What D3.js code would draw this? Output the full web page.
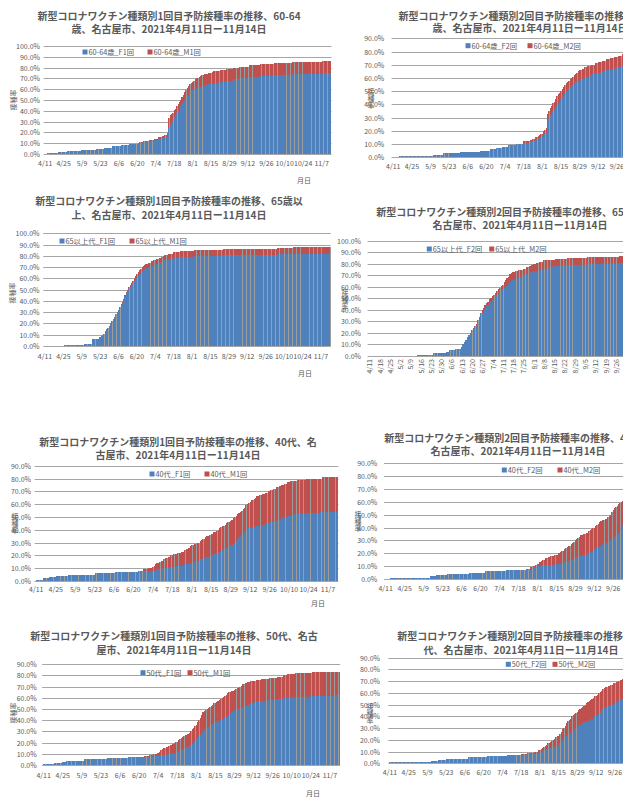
<!DOCTYPE html>
<html><head><meta charset="utf-8">
<script src="https://cdn.jsdelivr.net/npm/d3@7"></script>
<style>body{margin:0;background:#fff;}svg{display:block;font-family:"Noto Sans CJK JP","Noto Sans",sans-serif;}</style>
</head><body><svg id="c" width="623" height="798"></svg>
<script>
// ---- data: daily cumulative rate (%) from 2021-04-11; F = blue segment, M = red segment ----
const f60_1 = [0,0,1,1,1,1,1, 1,1,1,2,2,2,2, 2,2,2,3,3,3,3, 3,3,3,3,3,3,3, 4,4,4,4,4,4,4, 4,4,4,4,5,5,5, 5,5,5,6,6,6,6, 6,6,7,7,7,7,7, 7,7,8,8,8,8,8, 8,9,9,9,9,9,9, 9,10,10,10,10,11,11, 11,11,12,12,12,12,13, 13,13,14,14,14,15,15, 16,16,17,24,27,29,31, 34,36,38,40,42,44,46, 48,50,52,54,55,57,58, 59,60,60,61,61,62,62, 63,63,64,64,64,65,65, 65,65,66,66,66,66,66, 67,67,67,67,67,68,68, 68,68,68,69,69,69,69, 69,70,70,70,70,70,70, 70,71,71,71,71,71,71, 71,71,71,72,72,72,72, 72,72,72,72,72,72,73, 73,73,73,73,73,73,73, 73,73,73,73,73,73,74, 74,74,74,74,74,74,74, 74,74,74,74,74,74,74, 74,74,74,74,74,74,74, 74,75,75,75,75,75,75, 75];
const m60_1 = [0,0,0,0,0,0,0, 0,0,0,0,0,0,0, 0,0,0,0,0,0,0, 0,0,0,0,0,0,0, 0,0,0,0,0,0,0, 0,0,0,0,0,0,0, 0,0,0,0,0,0,0, 0,0,0,0,0,0,0, 0,0,0,0,0,0,0, 0,0,0,0,0,0,0, 0,0,1,1,1,1,1, 1,1,1,1,1,1,1, 1,1,2,2,2,2,2, 2,2,2,9,9,8,7, 7,6,6,6,6,6,7, 7,7,7,7,8,8,8, 8,8,9,9,9,9,10, 10,10,10,10,10,10,10, 10,11,11,11,11,11,11, 11,11,11,11,11,11,11, 11,11,11,11,11,11,11, 11,11,11,11,11,11,11, 11,11,11,11,11,11,11, 11,11,11,11,11,11,11, 11,11,11,11,11,11,11, 11,11,11,11,11,11,11, 11,11,11,11,11,11,11, 11,11,11,11,11,11,11, 11,11,11,11,11,11,11, 11,11,11,11,11,11,11, 11,11,11,11,11,11,11, 11];
const f65_1 = [0,0,0,0,0,0,0, 0,0,0,0,0,0,0, 0,1,1,1,1,1,1, 1,1,1,1,1,1,1, 1,1,2,2,2,2,2, 2,6,6,6,6,6,6, 8,9,10,11,13,15,16, 18,20,22,24,26,28,30, 32,34,36,38,41,44,46, 48,50,52,54,55,57,59, 60,62,63,64,66,67,68, 69,69,70,70,71,71,72, 72,73,73,74,74,75,75, 76,76,76,77,77,77,77, 78,78,78,78,78,79,79, 79,79,79,79,79,79,79, 79,79,80,80,80,80,80, 80,80,80,80,80,80,80, 80,80,80,80,80,80,80, 80,80,80,81,81,81,81, 81,81,81,81,81,81,81, 81,81,81,81,81,81,81, 81,81,81,81,81,81,81, 81,81,81,81,81,81,81, 81,81,81,81,81,81,81, 81,81,82,82,82,82,82, 82,82,82,82,82,82,82, 82,82,82,82,82,82,82, 82,82,82,82,82,82,82, 82,82,82,82,82,82,82, 82,82,82,82,82,82,82, 82];
const m65_1 = [0,0,0,0,0,0,0, 0,0,0,0,0,0,0, 0,0,0,0,0,0,0, 0,0,0,0,0,0,0, 0,0,0,0,0,0,0, 0,0,0,0,0,0,0, 0,0,0,0,0,0,0, 0,0,0,0,0,0,0, 0,1,1,1,1,1,2, 2,2,2,2,3,3,3, 4,4,4,4,4,4,4, 4,4,4,4,4,4,4, 4,4,4,4,4,4,5, 5,5,5,5,5,5,5, 5,5,5,5,5,5,5, 5,5,5,5,5,5,5, 5,5,5,5,5,5,5, 5,5,5,5,5,5,5, 5,5,5,5,5,5,5, 5,5,5,5,5,5,5, 5,5,5,5,5,5,5, 5,5,5,5,5,5,5, 5,5,5,5,5,5,5, 5,5,5,5,5,5,5, 5,5,5,5,5,5,5, 5,5,5,5,5,5,5, 5,5,5,5,5,5,5, 6,6,6,6,6,6,6, 6,6,6,6,6,6,6, 6,6,6,6,6,6,6, 6,6,6,6,6,6,6, 6,6,6,6,6,6,6, 6];
const f40_1 = [1,1,1,1,1,2,2, 2,2,2,3,3,3,3, 3,4,4,4,4,4,4, 4,4,5,5,5,5,5, 5,5,5,5,5,5,5, 5,5,5,5,5,5,5, 5,6,6,6,6,6,6, 6,6,6,6,6,6,6, 6,7,7,7,7,7,7, 7,7,7,7,7,7,7, 7,7,7,7,8,8,8, 8,8,8,8,8,8,8, 8,8,8,9,9,9,9, 9,10,10,10,10,11,11, 11,11,11,12,12,12,12, 12,12,13,13,13,13,14, 14,14,15,15,16,16,17, 17,17,18,18,19,19,19, 20,20,21,21,22,22,23, 23,24,25,25,26,26,27, 28,28,29,30,31,32,34, 35,36,37,38,39,40,41, 41,41,42,42,43,43,43, 43,44,44,44,45,45,45, 46,46,46,47,47,47,48, 48,48,49,49,50,50,50, 51,51,51,51,52,52,52, 52,52,52,52,52,53,53, 53,53,53,53,53,53,53, 53,53,54,54,54,54,54, 54,54,54,54,54,54,54, 54];
const m40_1 = [0,0,0,0,0,0,0, 0,0,0,0,0,0,0, 0,0,0,0,0,0,0, 0,0,0,0,0,0,0, 0,0,0,0,0,0,0, 0,0,0,0,0,0,0, 0,0,0,0,0,0,0, 0,0,0,0,0,0,0, 0,0,0,0,0,0,0, 0,0,0,0,0,0,0, 0,0,0,0,0,0,0, 1,1,1,1,2,2,2, 3,4,5,5,5,6,7, 7,7,8,8,9,8,9, 9,10,10,9,10,10,10, 11,11,11,12,12,13,13, 14,14,14,14,14,14,14, 15,16,15,16,16,16,17, 17,17,17,17,17,18,18, 19,19,18,19,19,20,19, 19,20,20,20,20,20,19, 19,19,19,19,20,20,20, 21,22,21,22,22,23,23, 24,23,24,24,24,24,25, 24,25,25,25,25,26,25, 26,26,26,26,26,26,27, 26,27,27,27,26,26,27, 27,27,27,27,27,26,27, 27,27,27,27,27,27,27, 27,27,26,27,27,27,27, 27,27,27,27,27,27,27, 27];
const f50_1 = [1,1,1,1,1,1,1, 1,2,2,2,2,2,2, 3,3,3,4,4,4,4, 4,4,4,4,4,4,4, 4,4,5,5,5,5,5, 5,5,5,5,5,5,5, 5,5,5,5,5,6,6, 6,6,6,6,6,6,6, 6,6,6,6,6,6,7, 7,7,7,7,7,7,7, 7,7,7,7,7,7,7, 7,8,8,8,8,8,8, 8,8,9,9,9,9,9, 10,10,10,10,11,11,11, 12,12,13,13,14,14,15, 16,16,17,18,19,20,21, 23,24,26,27,29,30,32, 32,33,34,35,36,37,37, 38,38,39,40,40,41,41, 42,43,44,45,46,47,48, 49,49,50,50,51,51,52, 52,53,53,54,54,55,55, 56,56,56,56,57,57,57, 57,57,57,58,58,58,58, 58,58,59,59,59,59,59, 59,59,60,60,60,60,60, 60,61,61,61,61,61,61, 61,61,61,61,61,61,62, 62,62,62,62,62,62,62, 62,62,62,62,62,62,62, 62,62,62,63,63,63,63, 63];
const m50_1 = [0,0,0,0,0,0,0, 0,0,0,0,0,0,0, 0,0,0,0,0,0,0, 0,0,0,0,0,0,0, 0,0,0,0,0,0,0, 0,0,0,0,0,0,0, 0,0,0,0,0,0,0, 0,0,0,0,0,0,0, 0,0,0,0,0,0,0, 0,0,0,0,0,0,0, 0,0,0,0,1,1,1, 1,1,1,1,2,2,2, 3,4,4,5,6,6,7, 6,7,8,8,8,9,10, 9,10,10,11,11,12,12, 11,12,12,12,13,13,14, 13,14,14,15,16,17,16, 17,17,17,17,17,17,18, 17,18,18,18,19,19,20, 20,20,20,20,19,19,18, 18,19,19,19,19,20,20, 20,20,20,20,20,20,20, 19,19,20,20,19,19,20, 20,20,20,19,19,20,20, 20,20,19,19,20,20,20, 20,21,20,20,21,21,21, 21,20,20,21,21,21,21, 21,21,21,21,21,21,20, 20,21,21,21,21,21,21, 21,21,21,21,21,21,21, 21,21,21,20,20,20,20, 20];
const f60_2 = [0,0,0,0,0,1,1, 1,1,1,1,1,1,1, 1,1,1,1,1,1,1, 1,1,1,1,1,1,1, 1,1,2,2,2,2,2, 2,2,2,3,3,3,3, 3,3,3,3,3,3,3, 3,3,4,4,4,4,4, 4,4,4,4,4,4,4, 4,4,4,5,5,5,5, 5,5,5,6,6,6,6, 6,7,7,7,7,8,8, 8,8,8,9,9,9,9, 9,9,10,10,10,10,10, 11,11,11,11,11,12,12, 12,12,13,13,13,14,15, 16,17,18,18,27,29,31, 33,35,36,38,39,40,42, 43,45,46,48,50,51,52, 53,54,55,56,57,57,58, 58,59,59,60,60,61,61, 61,62,62,63,63,63,63, 64,64,64,65,65,65,66, 66,66,66,67,67,67,68, 68,68,68,68,69,69,69, 69,69,70,70,70,70,70];
const m60_2 = [0,0,0,0,0,0,0, 0,0,0,0,0,0,0, 0,0,0,0,0,0,0, 0,0,0,0,0,0,0, 0,0,0,0,0,0,0, 0,0,0,0,0,0,0, 0,0,0,0,0,0,0, 0,0,0,0,0,0,0, 0,0,0,0,0,0,0, 0,0,0,0,0,0,0, 0,0,0,0,0,0,0, 0,0,0,0,0,0,0, 0,0,0,0,0,0,0, 0,0,0,0,0,0,0, 1,1,1,1,1,1,1, 2,2,2,2,3,3,3, 2,3,3,4,6,6,6, 6,6,6,6,7,8,7, 7,7,7,7,6,6,6, 6,6,6,6,6,7,7, 8,7,8,7,8,7,8, 8,7,8,7,7,8,8, 8,8,8,8,8,8,8, 8,8,9,8,8,9,8, 8,9,9,9,9,9,9, 10,10,9,9,10,10,10];
const f65_2 = [0,0,0,0,0,0,0, 0,0,0,0,0,0,0, 0,0,0,0,0,0,0, 0,0,0,0,0,0,0, 0,0,0,0,0,1,1, 1,1,1,1,1,1,1, 1,1,2,2,2,2,2, 2,2,2,2,3,3,5, 5,5,5,6,6,6,6, 8,10,12,14,16,18,20, 21,23,25,27,30,33,36, 37,39,41,43,44,46,47, 49,50,52,53,54,56,57, 57,59,60,61,63,64,65, 66,67,67,68,68,69,69, 70,70,71,71,72,72,73, 73,74,74,74,75,75,75, 76,76,76,77,77,77,77, 78,78,78,78,78,78,78, 78,78,79,79,79,79,79, 79,79,79,79,79,79,79, 79,79,80,80,80,80,80, 80,80,80,80,80,80,80, 80,80,80,80,80,80,80, 80,80,80,81,81,81,81, 81,81,81,81,81,81,81];
const m65_2 = [0,0,0,0,0,0,0, 0,0,0,0,0,0,0, 0,0,0,0,0,0,0, 0,0,0,0,0,0,0, 0,0,0,0,0,0,0, 0,0,0,0,0,0,0, 0,0,0,0,0,0,0, 0,0,0,0,0,0,0, 0,0,0,0,0,0,0, 0,0,0,0,0,0,0, 1,1,1,1,1,1,1, 3,3,3,3,3,3,3, 3,3,3,3,4,3,4, 5,5,6,7,6,7,7, 7,6,7,6,7,6,6, 6,6,6,6,6,6,6, 7,6,7,7,7,7,7, 7,7,7,6,6,6,6, 5,6,6,6,6,6,6, 6,6,6,6,6,6,6, 6,6,6,6,6,6,6, 6,6,6,6,6,6,6, 6,6,6,6,6,6,6, 6,6,6,6,6,6,6, 6,6,6,6,6,6,6, 6,6,6,6,6,6,6];
const f40_2 = [0,0,0,0,1,1,1, 1,1,1,1,1,1,1, 1,1,1,1,1,1,1, 1,1,1,1,1,1,1, 1,1,1,1,1,2,2, 2,2,2,3,3,3,3, 3,3,3,3,4,4,4, 4,4,4,4,4,4,4, 4,4,4,4,4,4,5, 5,5,5,5,5,5,5, 5,5,5,5,6,6,6, 6,6,6,6,6,6,6, 6,6,6,6,6,7,7, 7,7,7,7,7,7,7, 7,7,7,7,7,7,8, 8,8,8,8,9,9,9, 10,10,10,11,11,11,11, 11,11,11,11,11,11,11, 12,12,12,12,12,13,13, 13,13,14,14,15,15,16, 17,17,17,18,18,18,19, 19,19,20,20,21,21,22, 23,23,24,25,25,26,27, 27,28,28,29,29,30,31, 32,33,34,35,35,36,38, 41,41,42,42,43,43,44];
const m40_2 = [0,0,0,0,0,0,0, 0,0,0,0,0,0,0, 0,0,0,0,0,0,0, 0,0,0,0,0,0,0, 0,0,0,0,0,0,0, 0,0,0,0,0,0,0, 0,0,0,0,0,0,0, 0,0,0,0,0,0,0, 0,0,0,0,0,0,0, 0,0,0,0,0,0,0, 0,0,0,0,0,0,0, 0,0,0,0,0,0,0, 0,0,0,0,0,0,0, 0,0,0,0,0,0,0, 0,0,0,0,0,0,0, 0,0,1,1,1,1,2, 2,2,3,3,4,4,5, 5,6,6,7,7,7,8, 7,7,8,9,10,9,10, 11,12,12,12,12,13,13, 13,14,15,15,16,16,16, 16,17,16,17,17,18,18, 17,18,18,18,19,19,19, 19,19,19,19,20,20,21, 22,22,22,22,23,23,22, 20,20,20,20,20,20,20];
const f50_2 = [1,1,1,1,1,1,1, 1,1,1,1,1,1,1, 1,1,1,1,1,1,1, 1,1,1,1,1,1,1, 1,1,1,2,2,2,2, 2,3,3,3,3,3,3, 4,4,4,4,4,4,4, 4,4,4,4,4,4,4, 4,4,4,5,5,5,5, 5,5,5,5,5,5,5, 5,5,5,6,6,6,6, 6,6,6,6,6,6,6, 6,6,6,6,7,7,7, 7,7,7,7,7,7,7, 7,7,7,7,7,8,8, 8,8,8,8,8,9,9, 9,10,10,11,11,12,12, 13,13,13,14,14,15,15, 16,17,18,20,21,22,23, 24,25,26,27,28,29,30, 31,32,33,34,34,35,35, 36,36,37,38,38,39,40, 40,41,42,43,45,46,47, 47,48,49,49,50,50,51, 51,52,53,53,54,55,55, 56,56,57,57,58,58,58];
const m50_2 = [0,0,0,0,0,0,0, 0,0,0,0,0,0,0, 0,0,0,0,0,0,0, 0,0,0,0,0,0,0, 0,0,0,0,0,0,0, 0,0,0,0,0,0,0, 0,0,0,0,0,0,0, 0,0,0,0,0,0,0, 0,0,0,0,0,0,0, 0,0,0,0,0,0,0, 0,0,0,0,0,0,0, 0,0,0,0,0,0,0, 0,0,0,0,0,0,0, 0,0,0,0,0,0,0, 1,1,1,1,1,1,1, 1,1,1,2,2,1,2, 2,2,3,3,4,4,5, 4,5,6,6,7,7,8, 7,8,9,9,9,10,11, 12,12,12,13,13,13,13, 13,13,13,13,14,14,15, 15,16,16,16,17,17,17, 17,17,18,18,17,17,17, 18,17,17,17,17,17,17, 17,17,16,17,17,16,17, 16,17,16,17,16,17,17];
const ticks14 = ["4/11","4/25","5/9","5/23","6/6","6/20","7/4","7/18","8/1","8/15","8/29","9/12","9/26","10/10","10/24","11/7"];
const ticks7 = ["4/11","4/18","4/25","5/2","5/9","5/16","5/23","5/30","6/6","6/13","6/20","6/27","7/4","7/11","7/18","7/25","8/1","8/8","8/15","8/22","8/29","9/5","9/12","9/19","9/26","10/3","10/10","10/17","10/24","10/31","11/7","11/14"];
const pct100 = [0,10,20,30,40,50,60,70,80,90,100];
const pct90 = [0,10,20,30,40,50,60,70,80,90];

// ---- layout ----
const panels = [
 {f:f60_1,m:m60_1,names:["60-64歳_F1回","60-64歳_M1回"],title:["新型コロナワクチン種類別1回目予防接種率の推移、60-64","歳、名古屋市、2021年4月11日ー11月14日"],
  tx:169,ty:[15,28.5],yt:pct100,x0:44.6,step:1.316,y0:154,px10:10.8,ylx:40,xly:163,ticks:ticks14,rot:false,leg:[85,150,52],md:[304,180],ytl:[13,100],ytStack:false},
 {f:f65_1,m:m65_1,names:["65以上代_F1回","65以上代_M1回"],title:["新型コロナワクチン種類別1回目予防接種率の推移、65歳以","上、名古屋市、2021年4月11日ー11月14日"],
  tx:169,ty:[200,214],yt:pct100,x0:44.3,step:1.314,y0:346,px10:11.27,ylx:39.5,xly:356,ticks:ticks14,rot:false,leg:[62,132,241],md:[305,373],ytl:[12,293],ytStack:false},
 {f:f40_1,m:m40_1,names:["40代_F1回","40代_M1回"],title:["新型コロナワクチン種類別1回目予防接種率の推移、40代、名","古屋市、2021年4月11日ー11月14日"],
  tx:178,ty:[441.5,454],yt:pct90,x0:35.6,step:1.389,y0:581,px10:12.81,ylx:31,xly:589,ticks:ticks14,rot:false,leg:[152,207,474],md:[318,603],ytl:[15,523],ytStack:true},
 {f:f50_1,m:m50_1,names:["50代_F1回","50代_M1回"],title:["新型コロナワクチン種類別1回目予防接種率の推移、50代、名古","屋市、2021年4月11日ー11月14日"],
  tx:174,ty:[635,649],yt:pct90,x0:43,step:1.363,y0:765,px10:11.19,ylx:36.7,xly:775,ticks:ticks14,rot:false,leg:[143,190,672.7],md:[313,793],ytl:[13,713],ytStack:false},
 {f:f60_2,m:m60_2,names:["60-64歳_F2回","60-64歳_M2回"],title:["新型コロナワクチン種類別2回目予防接種率の推移、60-64","歳、名古屋市、2021年4月11日ー11月14日"],
  tx:530,ty:[15,27],yt:pct90,x0:392.6,step:1.331,y0:157.3,px10:13.22,ylx:384.3,xly:165.7,ticks:ticks14,rot:false,leg:[468,530,45.7],md:[655,180],ytl:[371,98],ytStack:true},
 {f:f65_2,m:m65_2,names:["65以上代_F2回","65以上代_M2回"],title:["新型コロナワクチン種類別2回目予防接種率の推移、65歳以上、","名古屋市、2021年4月11日ー11月14日"],
  tx:520,ty:[211.7,224.5],yt:pct100,x0:368.6,step:1.467,y0:355.7,px10:11.47,ylx:361,xly:359,ticks:ticks7,rot:true,leg:[429.3,491.7,249],md:[660,385],ytl:[345,299],ytStack:true},
 {f:f40_2,m:m40_2,names:["40代_F2回","40代_M2回"],title:["新型コロナワクチン種類別2回目予防接種率の推移、40代、","名古屋市、2021年4月11日ー11月14日"],
  tx:518,ty:[437.3,450.3],yt:pct90,x0:385,step:1.355,y0:579,px10:12.86,ylx:377.3,xly:587.7,ticks:ticks14,rot:false,leg:[504.3,560,470],md:[670,603],ytl:[358,521],ytStack:true},
 {f:f50_2,m:m50_2,names:["50代_F2回","50代_M2回"],title:["新型コロナワクチン種類別2回目予防接種率の推移、50","代、名古屋市、2021年4月11日ー11月14日"],
  tx:521,ty:[635.7,649.3],yt:pct90,x0:389.3,step:1.339,y0:763.3,px10:11.74,ylx:380,xly:771.7,ticks:ticks14,rot:false,leg:[508.3,555,664.3],md:[665,793],ytl:[370,713],ytStack:true}
];

const BLUE="#4f81bd", RED="#c0504d", GRID="#a6a6a6", GAP="#9c9c9c", TXT="#595959";
const svg = d3.select("#c");
const days = d3.timeDay.range(new Date(2021,3,11), new Date(2021,10,15));
const fmt = d3.timeFormat("%-m/%-d");
const dayLabels = days.map(fmt);

panels.forEach(p => {
  const g = svg.append("g");
  const n = dayLabels.length;
  const x = d3.scaleBand().domain(dayLabels).range([p.x0, p.x0 + p.step*n]).padding(0);
  const yMax = d3.max(p.yt);
  const y = d3.scaleLinear().domain([0, yMax]).range([p.y0, p.y0 - p.px10*yMax/10]);
  const bw = x.bandwidth();

  // gridlines
  g.append("g").selectAll("line").data(p.yt).join("line")
    .attr("x1", p.x0 - 1).attr("x2", p.x0 + p.step*n)
    .attr("y1", d => Math.round(y(d)) + 0.5).attr("y2", d => Math.round(y(d)) + 0.5)
    .attr("stroke", GRID).attr("stroke-width", 1);

  // y tick labels
  g.append("g").selectAll("text").data(p.yt).join("text")
    .attr("x", p.ylx).attr("y", d => y(d)).attr("text-anchor","end").attr("dominant-baseline","central")
    .attr("font-size", 7).attr("fill", TXT).text(d => d.toFixed(1) + "%");

  // stacked bars
  const rows = p.f.map((v,i) => ({day: dayLabels[i], f: v, m: p.m[i]}));
  const series = d3.stack().keys(["f","m"])(rows);
  const px = d => Math.round(x(d.data.day));
  const pw = d => Math.max(1, Math.round(x(d.data.day) + bw*0.8) - Math.round(x(d.data.day)));
  const bars = g.append("g").attr("shape-rendering","crispEdges");
  bars.selectAll("rect.back").data(series[1]).join("rect").attr("class","back")
    .attr("x", px).attr("width", d => Math.max(1, Math.round(x(d.data.day) + bw) - Math.round(x(d.data.day))))
    .attr("y", d => y(d[1])).attr("height", d => y(0) - y(d[1])).attr("fill", GAP);
  const col = [BLUE, RED];
  series.forEach((s, k) => {
    bars.append("g").selectAll("rect").data(s).join("rect")
      .attr("x", px).attr("width", pw)
      .attr("y", d => y(d[1])).attr("height", d => Math.max(0, y(d[0]) - y(d[1])))
      .attr("fill", col[k]);
  });

  // x tick labels
  const xl = g.append("g").selectAll("text").data(p.ticks).join("text")
    .attr("font-size", 7).attr("fill", TXT).text(d => d);
  if (p.rot) {
    xl.attr("text-anchor","end").attr("dominant-baseline","central")
      .attr("transform", d => `translate(${x(d) + bw/2},${p.xly}) rotate(-90)`);
  } else {
    xl.attr("x", d => x(d) + bw/2).attr("y", p.xly).attr("text-anchor","middle").attr("dominant-baseline","central");
  }

  // title
  g.append("g").selectAll("text").data(p.title).join("text")
    .attr("x", p.tx).attr("y", (d,i) => p.ty[i]).attr("text-anchor","middle").attr("dominant-baseline","central")
    .attr("font-size", 10).attr("font-weight","bold").attr("fill", TXT).text(d => d);

  // legend
  const lg = g.append("g");
  [0,1].forEach(k => {
    lg.append("rect").attr("x", p.leg[k] - 2.5).attr("y", p.leg[2] - 2.5).attr("width", 5).attr("height", 5).attr("fill", col[k]);
    lg.append("text").attr("x", p.leg[k] + 3.5).attr("y", p.leg[2]).attr("dominant-baseline","central")
      .attr("font-size", 7.3).attr("fill", TXT).text(p.names[k]);
  });

  // axis titles
  g.append("text").attr("x", p.md[0]).attr("y", p.md[1]).attr("text-anchor","middle").attr("dominant-baseline","central")
    .attr("font-size", 7).attr("fill", TXT).text("月日");
  if (p.ytStack) {
    const t = g.append("text").attr("font-size", 7).attr("fill", TXT).attr("text-anchor","middle");
    ["接","種","率"].forEach((c,i) => t.append("tspan").attr("x", p.ytl[0]).attr("y", p.ytl[1] - 7 + i*7).attr("dominant-baseline","central").text(c));
  } else {
    g.append("text").attr("transform", `translate(${p.ytl[0]},${p.ytl[1]}) rotate(-90)`)
      .attr("text-anchor","middle").attr("dominant-baseline","central").attr("font-size", 7).attr("fill", TXT).text("接種率");
  }
});
</script></body></html>
